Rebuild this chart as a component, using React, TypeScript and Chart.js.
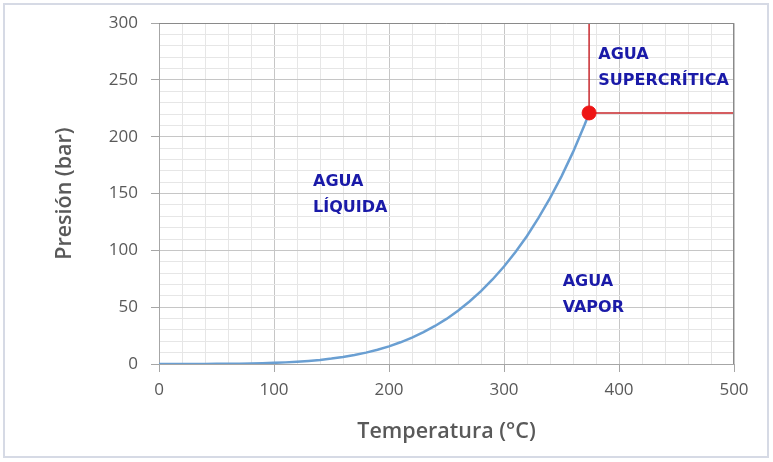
import React, { useEffect, useRef } from 'react';
import { Chart, registerables } from 'chart.js';

Chart.register(...registerables);

// Saturation curve of water (temperature °C -> pressure bar)
const temperatures = [0, 10, 20, 30, 40, 50, 60, 70, 80, 90, 100, 110, 120, 130, 140, 150, 160, 170, 180, 190, 200, 210, 220, 230, 240, 250, 260, 270, 280, 290, 300, 310, 320, 330, 340, 350, 360, 370, 374];
const pressures = [0.006, 0.012, 0.023, 0.042, 0.074, 0.123, 0.199, 0.312, 0.474, 0.701, 1.01, 1.43, 1.99, 2.7, 3.61, 4.76, 6.18, 7.92, 10.0, 12.6, 15.5, 19.1, 23.2, 28.0, 33.5, 39.7, 46.9, 55.0, 64.1, 74.4, 85.8, 98.6, 112.7, 128.6, 146.0, 165.2, 186.5, 210.4, 220.6];

// Critical point and the lines bounding the supercritical region
const criticalT = 374;
const criticalP = 221;
const boundaryT = [374, 374, 500];
const boundaryP = [300, 221, 221];

// Axis ranges
const xMin = 0, xMax = 500, xMajor = 100, xMinor = 20;
const yMin = 0, yMax = 300, yMajor = 50, yMinor = 10;
const xTitle = 'Temperatura (°C)';
const yTitle = 'Presión (bar)';

// Region labels (anchor of first line, data units)
const labelLines = [['AGUA', 'LÍQUIDA'], ['AGUA', 'SUPERCRÍTICA'], ['AGUA', 'VAPOR']];
const labelT = [134, 382, 351];
const labelP = [160, 272, 72];

const tickFont = { family: '"Open Sans", sans-serif', size: 17 };
const titleFont = { family: '"Open Sans", sans-serif', size: 21.5, weight: '600' as const };

const decorPlugin = {
  id: 'decor',
  afterDraw(chart: any) {
    const { ctx, chartArea, scales } = chart;
    const { left, top, right, bottom } = chartArea;
    ctx.save();
    ctx.strokeStyle = '#8a8a8a';
    ctx.lineWidth = 1;
    ctx.beginPath();
    ctx.moveTo(left, Math.round(top) + 0.5);
    ctx.lineTo(right, Math.round(top) + 0.5);
    ctx.moveTo(Math.round(right) - 0.5, top);
    ctx.lineTo(Math.round(right) - 0.5, bottom);
    ctx.stroke();

    ctx.font = 'bold 16px "DejaVu Sans", sans-serif';
    ctx.fillStyle = '#1a1aa8';
    ctx.textAlign = 'left';
    ctx.textBaseline = 'middle';
    labelLines.forEach((lines, i) => {
      const x = scales.x.getPixelForValue(labelT[i]);
      const y = scales.y.getPixelForValue(labelP[i]);
      lines.forEach((line, j) => ctx.fillText(line, x, y + j * 26));
    });
    ctx.restore();
  },
};

export default function App() {
  const canvasRef = useRef<HTMLCanvasElement | null>(null);

  useEffect(() => {
    if (!canvasRef.current) return;
    const curve = temperatures.map((t, i) => ({ x: t, y: pressures[i] }));
    const boundary = boundaryT.map((t, i) => ({ x: t, y: boundaryP[i] }));
    const chart = new Chart(canvasRef.current, {
      type: 'scatter',
      data: {
        datasets: [
          {
            data: [{ x: criticalT, y: criticalP }],
            backgroundColor: '#ee1515',
            borderColor: '#ee1515',
            pointRadius: 7,
            showLine: false,
            order: 0,
          },
          {
            data: boundary,
            borderColor: '#c8282d',
            borderWidth: 1.5,
            pointRadius: 0,
            showLine: true,
            order: 1,
          },
          {
            data: curve,
            borderColor: '#6a9fd2',
            borderWidth: 2.5,
            pointRadius: 0,
            showLine: true,
            tension: 0,
            order: 2,
          },
        ],
      },
      options: {
        animation: false,
        responsive: false,
        layout: { padding: { left: 0, top: 23, right: 39, bottom: 0 } },
        plugins: { legend: { display: false }, tooltip: { enabled: false } },
        scales: {
          x: {
            type: 'linear',
            min: xMin,
            max: xMax,
            afterFit: (s: any) => { s.height = 98; },
            ticks: {
              stepSize: xMinor,
              autoSkip: false,
              maxRotation: 0,
              padding: 8,
              color: '#595959',
              font: tickFont,
              callback: (v: any) => (v % xMajor === 0 ? String(v) : ''),
            },
            grid: {
              color: (c: any) => (c.tick && c.tick.value % xMajor === 0 ? '#c6c6c6' : '#e6e6e6'),
              tickColor: (c: any) => (c.tick && c.tick.value % xMajor === 0 ? '#a6a6a6' : 'rgba(0,0,0,0)'),
              tickLength: 8,
            },
            border: { color: '#a6a6a6' },
            title: { display: true, text: xTitle, color: '#595959', font: titleFont, padding: { top: 0, bottom: 17 } },
          },
          y: {
            type: 'linear',
            min: yMin,
            max: yMax,
            afterFit: (s: any) => { s.width = 159; },
            ticks: {
              stepSize: yMinor,
              autoSkip: false,
              padding: 13,
              color: '#595959',
              font: tickFont,
              callback: (v: any) => (v % yMajor === 0 ? String(v) : ''),
            },
            grid: {
              color: (c: any) => (c.tick && c.tick.value % yMajor === 0 ? '#c6c6c6' : '#e6e6e6'),
              tickColor: (c: any) => (c.tick && c.tick.value % yMajor === 0 ? '#a6a6a6' : 'rgba(0,0,0,0)'),
              tickLength: 8,
            },
            border: { color: '#a6a6a6' },
            title: { display: true, text: yTitle, color: '#595959', font: titleFont, padding: { top: 52, bottom: 0 } },
          },
        },
      },
      plugins: [decorPlugin],
    });
    return () => chart.destroy();
  }, []);

  return (
    <div style={{ position: 'absolute', left: 0, top: 0, width: 773, height: 462, background: '#ffffff' }}>
      <canvas ref={canvasRef} width={773} height={462} style={{ position: 'absolute', left: 0, top: 0 }} />
      <div
        style={{
          position: 'absolute',
          left: 3,
          top: 3,
          width: 766,
          height: 455,
          boxSizing: 'border-box',
          border: '2px solid #d6dae5',
          pointerEvents: 'none',
        }}
      />
    </div>
  );
}
